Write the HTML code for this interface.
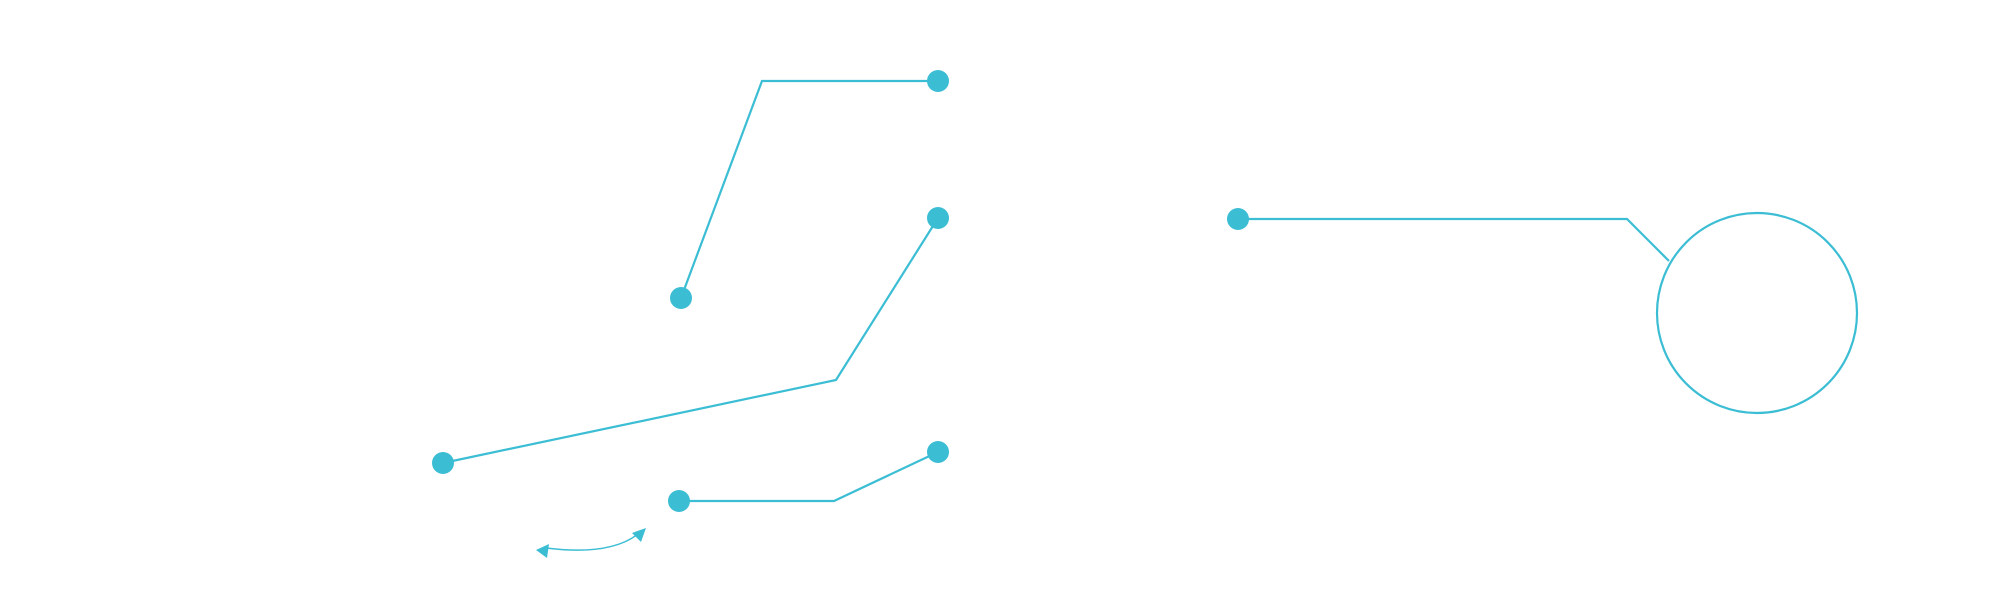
<!DOCTYPE html>
<html><head><meta charset="utf-8"><style>
html,body{margin:0;padding:0;background:#fff;width:1997px;height:601px;overflow:hidden}
</style></head><body>
<svg width="1997" height="601" viewBox="0 0 1997 601" xmlns="http://www.w3.org/2000/svg">
<g fill="none" stroke="#3bbdd4" stroke-width="2.2">
<polyline points="681,298 762,81 938,81"/>
<polyline points="443,463 836,380 938,218"/>
<polyline points="679,501 834,501 938,452"/>
<polyline points="1238,219 1627,219 1669,261"/>
<circle cx="1757" cy="313" r="100"/>
<path d="M546,548 Q610,556 638,534" stroke-width="1.5"/>
</g>
<g fill="#3bbdd4">
<circle cx="938" cy="81" r="11"/>
<circle cx="681" cy="298" r="11"/>
<circle cx="938" cy="218" r="11"/>
<circle cx="443" cy="463" r="11"/>
<circle cx="938" cy="452" r="11"/>
<circle cx="679" cy="501" r="11"/>
<circle cx="1238" cy="219" r="11"/>
<polygon points="536,550 549,544 547,558"/>
<polygon points="646,528 641,542 632,533"/>
</g>
</svg>
</body></html>
